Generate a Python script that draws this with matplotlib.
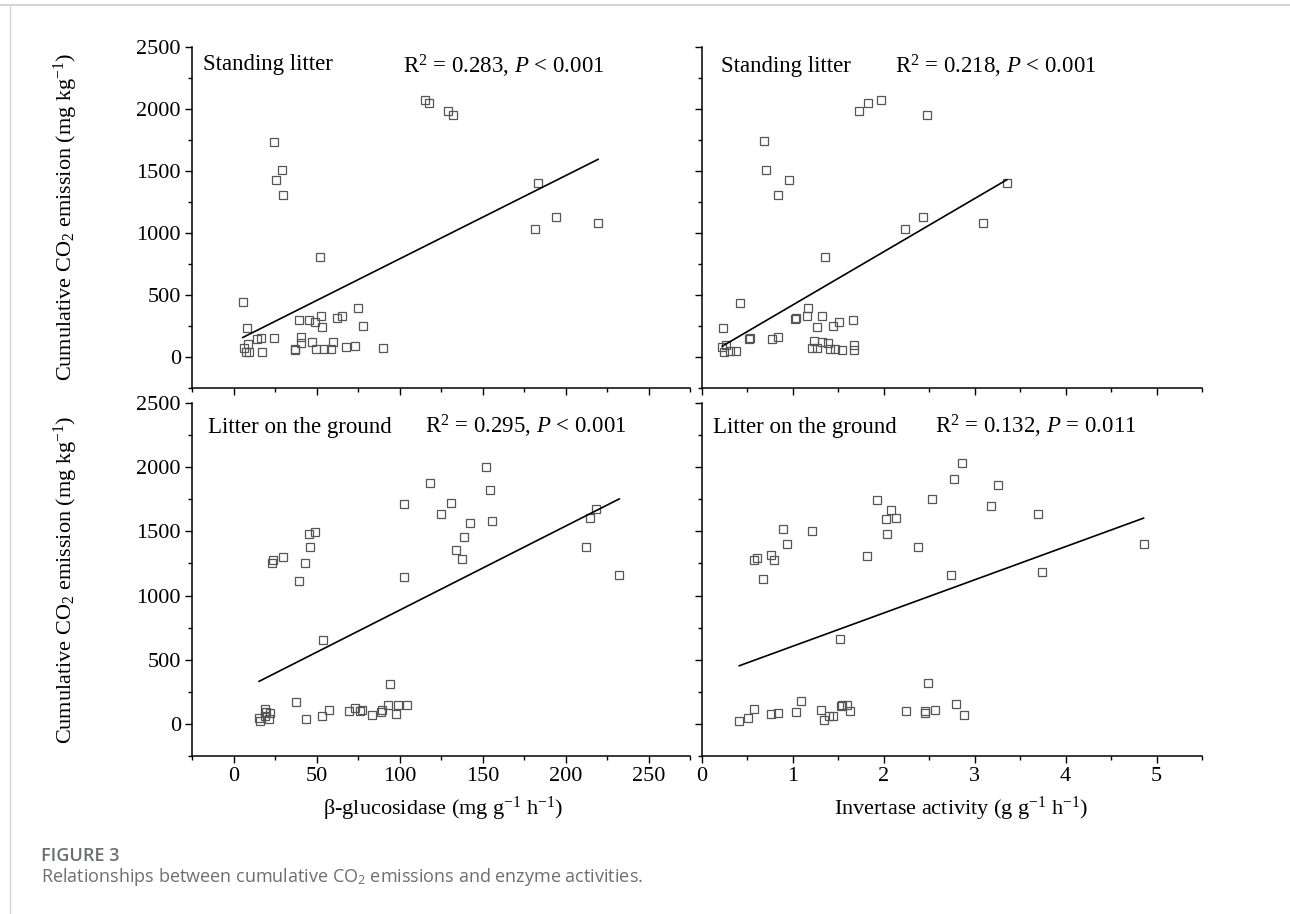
import numpy as np
import matplotlib.pyplot as plt
from matplotlib.lines import Line2D
from matplotlib.ticker import MultipleLocator

plt.rcParams['font.family'] = ['Liberation Serif', 'DejaVu Serif']
plt.rcParams['mathtext.fontset'] = 'custom'
plt.rcParams['mathtext.rm'] = 'Liberation Serif'
plt.rcParams['mathtext.it'] = 'Liberation Serif:italic'
plt.rcParams['mathtext.sf'] = 'Open Sans'

# standing litter vs beta-glucosidase
gluc_st_x = [115.6, 117.6, 129.4, 132.0, 24.4, 29.4, 25.6, 30.0, 183.4, 194.0, 181.4, 219.6,
             52.0, 5.6, 74.8, 8.2, 39.6, 45.2, 48.8, 52.8, 53.2, 62.4, 65.6, 77.8, 16.8, 14.2,
             24.6, 8.8, 6.2, 7.6, 9.2, 17.2, 40.8, 40.8, 37.2, 36.8, 47.2, 49.6, 54.8, 58.8,
             59.8, 67.6, 73.2, 90.2]
gluc_st_y = [2070, 2051, 1984, 1949, 1736, 1511, 1427, 1306, 1400, 1132, 1030, 1081,
             806, 441, 398, 237, 301, 301, 285, 333, 239, 317, 328, 247, 151, 143,
             151, 105, 70, 43, 43, 43, 159, 110, 62, 55, 124, 65, 65, 65,
             124, 78, 91, 75]
gluc_st_fit = (119.7, 6.713)  # intercept, slope

# standing litter vs invertase
inv_st_x = [1.722, 1.824, 1.971, 2.480, 0.685, 0.700, 0.956, 0.835, 3.352, 2.429, 2.231, 3.088,
            1.352, 0.414, 0.231, 1.168, 1.022, 1.033, 1.154, 1.322, 1.267, 1.443, 1.505, 1.663,
            1.670, 1.670, 0.267, 0.223, 0.242, 0.304, 0.377, 0.516, 0.527, 0.773, 0.839, 1.231,
            1.315, 1.381, 1.212, 1.267, 1.407, 1.458, 1.542]
inv_st_y = [1984, 2052, 2069, 1949, 1738, 1510, 1429, 1304, 1402, 1133, 1030, 1079,
            805, 436, 236, 399, 309, 317, 331, 331, 241, 252, 285, 301,
            100, 57, 95, 79, 41, 46, 46, 146, 155, 146, 160, 127,
            122, 114, 73, 73, 65, 65, 54]
inv_st_fit = (-8.6, 428.9)

# litter on the ground vs beta-glucosidase
gluc_gr_x = [152.2, 118.4, 154.4, 102.8, 131.0, 125.2, 142.6, 156.0, 138.6, 134.2, 137.6, 102.8,
             218.2, 215.0, 212.2, 232.4, 45.2, 49.0, 46.0, 23.0, 24.0, 29.8, 43.0, 39.2,
             54.0, 94.0, 37.4, 43.6, 53.4, 57.6, 69.4, 73.4, 76.0, 77.4, 83.4, 88.6,
             89.2, 93.0, 99.0, 104.6, 98.0, 19.0, 19.4, 22.0, 15.4, 15.8, 21.4, 19.0]
gluc_gr_y = [2000, 1876, 1819, 1715, 1723, 1638, 1562, 1578, 1454, 1358, 1288, 1145,
             1671, 1604, 1381, 1163, 1477, 1498, 1381, 1257, 1275, 1298, 1257, 1112,
             650, 311, 174, 39, 65, 106, 98, 127, 104, 111, 70, 96,
             106, 150, 150, 150, 75, 117, 96, 85, 44, 23, 39, 65]
gluc_gr_fit = (230.7, 6.55)

# litter on the ground vs invertase
inv_gr_x = [2.864, 2.776, 3.259, 2.531, 1.920, 2.074, 2.023, 2.136, 2.034, 1.814, 2.381, 3.178,
            3.694, 4.857, 3.742, 2.736, 0.896, 1.207, 0.933, 0.757, 0.797, 0.604, 0.571, 0.673,
            1.514, 2.483, 0.410, 0.505, 0.574, 0.757, 0.834, 1.035, 1.090, 1.309, 1.342, 1.401,
            1.441, 1.525, 1.536, 1.598, 1.631, 2.249, 2.458, 2.458, 2.568, 2.798, 2.882]
inv_gr_y = [2034, 1910, 1863, 1754, 1746, 1663, 1593, 1606, 1477, 1308, 1381, 1700,
            1632, 1404, 1181, 1163, 1521, 1503, 1404, 1316, 1280, 1296, 1277, 1132,
            661, 316, 21, 44, 117, 78, 88, 96, 179, 109, 34, 65,
            65, 137, 148, 150, 101, 98, 104, 86, 111, 155, 73]
inv_gr_fit = (347.0, 258.6)

site_labels = ['Standing litter', 'Standing litter', 'Litter on the ground', 'Litter on the ground']
stat_labels = [r'R$^2$ = 0.283, $P$ < 0.001', r'R$^2$ = 0.218, $P$ < 0.001',
               r'R$^2$ = 0.295, $P$ < 0.001', r'R$^2$ = 0.132, $P$ = 0.011']
ylabel = r'Cumulative CO$_2$ emission (mg kg$^{-1}$)'
xlabels = [r'β-glucosidase (mg g$^{-1}$ h$^{-1}$)', r'Invertase activity (g g$^{-1}$ h$^{-1}$)']

W, H = 1290, 914
fig = plt.figure(figsize=(W / 100, H / 100), dpi=100)


def add_ax(x0, y0, x1, y1):
    return fig.add_axes([x0 / W, 1 - y1 / H, (x1 - x0) / W, (y1 - y0) / H])


def ftext(x, y, s, **kw):
    return fig.text(x / W, 1 - y / H, s, **kw)


panels = [
    (add_ax(192, 47, 690, 388), gluc_st_x, gluc_st_y, gluc_st_fit, 'g', (203, 70), (403, 74)),
    (add_ax(702, 47, 1202, 388), inv_st_x, inv_st_y, inv_st_fit, 'i', (721, 72), (895, 73)),
    (add_ax(192, 403, 690, 756), gluc_gr_x, gluc_gr_y, gluc_gr_fit, 'g', (208, 433), (425, 434)),
    (add_ax(702, 403, 1202, 756), inv_gr_x, inv_gr_y, inv_gr_fit, 'i', (713, 433), (935, 434)),
]

for k, (ax, xs, ys, fit, kind, p1, p2) in enumerate(panels):
    xs = np.array(xs)
    ax.plot(xs, ys, 's', ms=5.2, mfc='none', mec='#555555', mew=0.9)
    xl = np.array([xs.min(), xs.max()])
    ax.plot(xl, fit[0] + fit[1] * xl, color='black', lw=1.2)
    if kind == 'g':
        ax.set_xlim(-25, 275)
        ax.xaxis.set_major_locator(MultipleLocator(50))
        ax.xaxis.set_minor_locator(MultipleLocator(25))
    else:
        ax.set_xlim(0, 5.5)
        ax.xaxis.set_major_locator(MultipleLocator(1))
        ax.xaxis.set_minor_locator(MultipleLocator(0.5))
    ax.set_ylim(-250, 2500)
    ax.yaxis.set_major_locator(MultipleLocator(500))
    ax.yaxis.set_minor_locator(MultipleLocator(250))
    for s in ['top', 'right']:
        ax.spines[s].set_visible(False)
    for s in ['left', 'bottom']:
        ax.spines[s].set_linewidth(1.1)
    ax.tick_params(which='major', direction='out', length=5, width=1.0, labelsize=16, pad=3)
    ax.tick_params(which='minor', direction='out', length=3, width=1.0)
    ax.tick_params(labelbottom=(k >= 2), labelleft=(k % 2 == 0))
    ax.patch.set_alpha(0)
    ftext(p1[0], p1[1], site_labels[k], fontsize=16.5, va='baseline')
    ftext(p2[0], p2[1], stat_labels[k], fontsize=16.5, va='baseline')

ftext(66, 217, ylabel, fontsize=16, rotation=90, ha='center', va='center')
ftext(66, 580, ylabel, fontsize=16, rotation=90, ha='center', va='center')
ftext(443, 815, xlabels[0], fontsize=16, ha='center', va='baseline')
ftext(961, 815, xlabels[1], fontsize=16, ha='center', va='baseline')

# caption
ftext(41, 861, 'FIGURE 3', fontsize=13, family='Open Sans', weight='semibold',
      color='#6d6e70', va='baseline')
ftext(41, 882, r'Relationships between cumulative CO$_\mathsf{2}$ emissions and enzyme activities.',
      fontsize=13, family='Open Sans', color='#6d6e70', va='baseline')

# page frame
fig.add_artist(Line2D([0, 1], [1 - 5 / H, 1 - 5 / H], color='#d4d4d4', lw=1.5))
fig.add_artist(Line2D([10 / W, 10 / W], [0, 1 - 5 / H], color='#d4d4d4', lw=1.0))

fig.savefig('out.png', dpi=100)
